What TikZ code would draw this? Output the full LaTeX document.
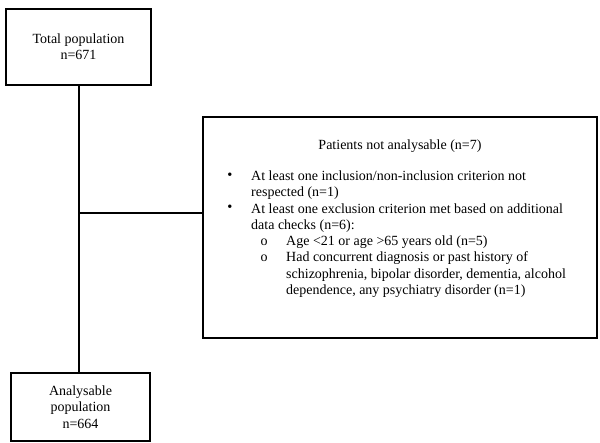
\documentclass[tikz,border=0pt]{standalone}
\usepackage{fontspec}
\setmainfont{Liberation Serif}
\usetikzlibrary{positioning}

\tikzset{
    flowbox/.style={draw, line width=1.2pt, align=center, inner sep=0pt},
    itemtext/.style={anchor=base west, inner sep=0pt}
}

\begin{document}
\begin{tikzpicture}[x=1pt,y=-1pt,font=\fontsize{14}{16.3}\selectfont]
    \useasboundingbox (0,0) rectangle (600,443);

    % Boxes
    \node[flowbox, minimum width=145pt, minimum height=76pt] (total) at (78.5,47) {Total population\\n=671};
    \node[flowbox, minimum width=139pt, minimum height=68pt] (anal) at (80.5,407) {Analysable\\population\\n=664};
    \node[flowbox, minimum width=394pt, minimum height=221pt] (excl) at (400,227.5) {};

    % Connectors
    \coordinate (branch) at (79,213);
    \draw[line width=1.2pt] (total.south -| branch) -- (anal.north -| branch);
    \draw[line width=1.2pt] (branch) -- (branch -| excl.west);

    % Exclusion text
    \node[inner sep=0pt] (head) at (400,146) {Patients not analysable (n=7)};
    \node[inner sep=0pt] (b1) at (230,176) {\Large\textbullet};
    \node[itemtext] (t1a) at (251,180.5) {At least one inclusion/non-inclusion criterion not};
    \node[itemtext] (t1b) at (251,196.8) {respected (n=1)};
    \node[inner sep=0pt] (b2) at (230,208.5) {\Large\textbullet};
    \node[itemtext] (t2a) at (251,213.1) {At least one exclusion criterion met based on additional};
    \node[itemtext] (t2b) at (251,229.4) {data checks (n=6):};
    \node[inner sep=0pt] (s1) at (264,242) {o};
    \node[itemtext] (u1) at (286,245.7) {Age <21 or age >65 years old (n=5)};
    \node[inner sep=0pt] (s2) at (264,258) {o};
    \node[itemtext] (u2a) at (286,262) {Had concurrent diagnosis or past history of};
    \node[itemtext] (u2b) at (286,278.3) {schizophrenia, bipolar disorder, dementia, alcohol};
    \node[itemtext] (u2c) at (286,294.6) {dependence, any psychiatry disorder (n=1)};
\end{tikzpicture}
\end{document}
